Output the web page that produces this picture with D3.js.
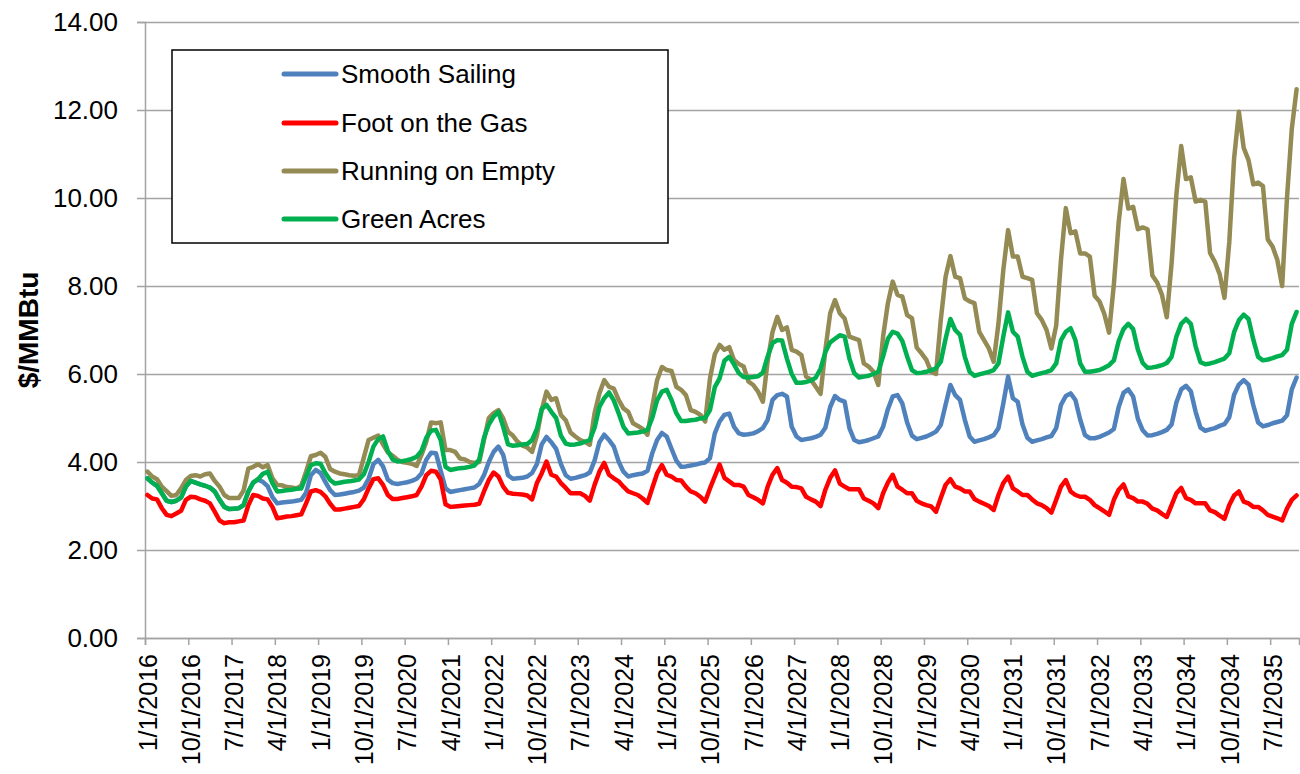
<!DOCTYPE html>
<html><head><meta charset="utf-8">
<script src="https://cdn.jsdelivr.net/npm/d3@7"></script>
<style>
body{margin:0;background:#fff;}
svg{display:block;}
text{font-family:"Liberation Sans",Arial,sans-serif;fill:#000;}
</style>
</head><body>
<svg id="chart" width="1300" height="774"></svg>
<script>
// ---------- DATA ----------
const startYear = 2016;
const monthCount = 240;
const categories = d3.range(monthCount).map(i => `${i % 12 + 1}/1/${startYear + Math.floor(i / 12)}`);
const tickLabels = ["1/1/2016","10/1/2016","7/1/2017","4/1/2018","1/1/2019","10/1/2019","7/1/2020","4/1/2021","1/1/2022","10/1/2022","7/1/2023","4/1/2024","1/1/2025","10/1/2025","7/1/2026","4/1/2027","1/1/2028","10/1/2028","7/1/2029","4/1/2030","1/1/2031","10/1/2031","7/1/2032","4/1/2033","1/1/2034","10/1/2034","7/1/2035"];
const yTickValues = [0, 2, 4, 6, 8, 10, 12, 14];
const seriesNames = ["Smooth Sailing", "Foot on the Gas", "Running on Empty", "Green Acres"];

const smoothSailing = [
3.63,3.53,3.46,3.29,3.12,3.09,3.12,3.19,3.44,3.57,3.53,3.49,
3.46,3.42,3.33,3.14,2.98,2.93,2.94,2.95,3.02,3.33,3.53,3.60,
3.55,3.45,3.20,3.06,3.08,3.09,3.10,3.12,3.14,3.30,3.70,3.82,
3.75,3.55,3.36,3.25,3.26,3.28,3.30,3.32,3.35,3.42,3.62,3.95,
4.05,3.90,3.60,3.52,3.50,3.52,3.54,3.57,3.62,3.74,4.05,4.21,
4.20,3.80,3.40,3.32,3.34,3.36,3.38,3.40,3.42,3.50,3.70,4.00,
4.23,4.35,4.16,3.70,3.62,3.63,3.64,3.67,3.75,3.95,4.40,4.57,
4.45,4.30,3.95,3.70,3.62,3.64,3.67,3.70,3.76,4.03,4.45,4.62,
4.50,4.35,4.01,3.78,3.67,3.70,3.72,3.74,3.80,4.20,4.50,4.66,
4.58,4.30,4.03,3.89,3.90,3.92,3.94,3.97,3.99,4.09,4.65,4.92,
5.07,5.10,4.80,4.65,4.62,4.63,4.65,4.70,4.77,4.96,5.41,5.52,
5.55,5.49,4.80,4.58,4.50,4.52,4.54,4.57,4.62,4.78,5.25,5.50,
5.41,5.37,4.77,4.50,4.45,4.47,4.50,4.54,4.58,4.80,5.20,5.49,
5.52,5.33,4.90,4.60,4.52,4.55,4.58,4.63,4.69,4.84,5.30,5.75,
5.52,5.41,4.96,4.58,4.46,4.49,4.52,4.56,4.61,4.77,5.33,5.94,
5.45,5.37,4.85,4.55,4.46,4.49,4.52,4.56,4.59,4.77,5.30,5.50,
5.56,5.41,4.96,4.61,4.54,4.54,4.57,4.62,4.67,4.75,5.25,5.57,
5.65,5.49,4.98,4.72,4.60,4.61,4.64,4.68,4.73,4.85,5.35,5.65,
5.73,5.61,5.14,4.78,4.71,4.74,4.77,4.82,4.86,5.02,5.53,5.76,
5.86,5.76,5.29,4.90,4.81,4.84,4.88,4.91,4.94,5.06,5.65,5.92];

const footOnTheGas = [
3.25,3.17,3.15,2.95,2.80,2.77,2.83,2.89,3.14,3.21,3.20,3.15,
3.12,3.06,2.87,2.67,2.61,2.63,2.63,2.65,2.67,3.02,3.25,3.23,
3.17,3.15,2.98,2.72,2.74,2.76,2.77,2.79,2.81,3.06,3.33,3.36,
3.32,3.22,3.05,2.92,2.92,2.94,2.96,2.98,3.00,3.15,3.40,3.61,
3.63,3.48,3.25,3.16,3.16,3.18,3.20,3.22,3.25,3.44,3.70,3.80,
3.78,3.60,3.04,2.98,2.99,3.00,3.01,3.02,3.03,3.05,3.33,3.59,
3.76,3.67,3.44,3.30,3.28,3.27,3.26,3.24,3.15,3.52,3.74,4.01,
3.71,3.67,3.52,3.41,3.29,3.29,3.29,3.23,3.12,3.48,3.78,3.98,
3.71,3.63,3.56,3.44,3.33,3.29,3.25,3.17,3.07,3.41,3.74,3.93,
3.71,3.67,3.59,3.58,3.44,3.33,3.29,3.21,3.10,3.40,3.67,3.94,
3.64,3.56,3.48,3.48,3.44,3.25,3.20,3.14,3.06,3.44,3.71,3.86,
3.59,3.53,3.44,3.43,3.40,3.21,3.15,3.10,3.00,3.37,3.64,3.81,
3.51,3.44,3.38,3.38,3.38,3.17,3.12,3.06,2.95,3.29,3.53,3.71,
3.44,3.37,3.29,3.29,3.12,3.06,3.02,2.99,2.87,3.18,3.48,3.61,
3.44,3.40,3.33,3.33,3.16,3.10,3.05,3.00,2.91,3.25,3.52,3.67,
3.40,3.33,3.25,3.25,3.15,3.06,3.02,2.95,2.85,3.14,3.44,3.59,
3.33,3.25,3.21,3.21,3.14,3.02,2.95,2.88,2.80,3.14,3.37,3.49,
3.22,3.18,3.10,3.10,3.05,2.94,2.90,2.82,2.75,3.02,3.29,3.41,
3.18,3.14,3.06,3.06,3.06,2.90,2.86,2.78,2.71,3.02,3.24,3.33,
3.10,3.06,2.98,2.98,2.90,2.80,2.76,2.72,2.67,2.94,3.14,3.24];

const runningOnEmpty = [
3.78,3.67,3.61,3.44,3.34,3.23,3.25,3.40,3.59,3.68,3.70,3.67,
3.72,3.74,3.57,3.44,3.25,3.18,3.18,3.18,3.35,3.85,3.89,3.95,
3.88,3.93,3.63,3.48,3.47,3.43,3.42,3.40,3.46,3.78,4.13,4.16,
4.21,4.12,3.84,3.78,3.74,3.72,3.70,3.69,3.70,4.10,4.50,4.55,
4.60,4.40,4.22,4.14,4.05,4.00,3.98,3.96,3.91,4.16,4.46,4.90,
4.88,4.90,4.27,4.27,4.23,4.08,4.06,4.00,3.98,4.00,4.50,5.00,
5.11,5.18,4.99,4.69,4.60,4.46,4.37,4.33,4.23,4.60,5.18,5.60,
5.41,5.45,5.07,4.95,4.67,4.58,4.50,4.46,4.39,5.11,5.56,5.86,
5.71,5.67,5.41,5.22,5.14,4.88,4.82,4.75,4.62,5.26,5.86,6.16,
6.09,6.07,5.71,5.64,5.52,5.18,5.14,5.07,4.92,5.90,6.45,6.66,
6.55,6.61,6.32,6.23,6.17,5.83,5.75,5.60,5.37,6.30,6.95,7.30,
7.00,7.06,6.55,6.51,6.43,5.94,5.87,5.71,5.55,6.55,7.38,7.68,
7.38,7.26,6.85,6.81,6.77,6.24,6.17,6.05,5.75,6.85,7.61,8.10,
7.80,7.76,7.34,7.27,6.60,6.47,6.32,6.05,6.00,7.23,8.21,8.68,
8.21,8.18,7.72,7.65,7.61,6.96,6.77,6.58,6.28,7.15,8.36,9.27,
8.67,8.67,8.21,8.18,8.14,7.38,7.23,7.00,6.58,7.10,8.60,9.77,
9.20,9.24,8.74,8.74,8.67,7.78,7.65,7.37,6.94,8.04,9.45,10.43,
9.76,9.80,9.29,9.33,9.29,8.24,8.08,7.80,7.29,8.51,10.08,11.18,
10.43,10.47,9.92,9.96,9.92,8.75,8.55,8.27,7.73,9.00,10.90,11.96,
11.14,10.86,10.31,10.35,10.27,9.06,8.90,8.59,8.00,10.00,11.57,12.47];

const greenAcres = [
3.63,3.53,3.46,3.29,3.12,3.09,3.12,3.19,3.44,3.57,3.53,3.49,
3.46,3.42,3.33,3.14,2.98,2.93,2.94,2.95,3.02,3.33,3.53,3.61,
3.73,3.78,3.52,3.33,3.34,3.36,3.37,3.39,3.40,3.67,3.93,3.97,
3.96,3.75,3.59,3.51,3.53,3.55,3.56,3.58,3.60,3.72,4.00,4.35,
4.52,4.58,4.25,4.06,4.01,4.02,4.04,4.07,4.12,4.25,4.55,4.71,
4.73,4.50,3.89,3.82,3.84,3.86,3.87,3.89,3.92,4.05,4.55,4.85,
5.03,5.14,4.80,4.40,4.37,4.38,4.40,4.41,4.50,4.75,5.20,5.30,
5.14,5.00,4.60,4.42,4.39,4.40,4.42,4.46,4.50,4.78,5.25,5.45,
5.58,5.40,5.11,4.80,4.65,4.66,4.67,4.69,4.73,5.00,5.40,5.60,
5.64,5.41,5.11,4.93,4.93,4.95,4.96,4.99,5.00,5.18,5.70,5.90,
6.30,6.39,6.22,6.02,5.93,5.92,5.93,5.95,6.03,6.40,6.70,6.77,
6.76,6.35,6.00,5.80,5.80,5.82,5.85,5.92,6.12,6.50,6.72,6.80,
6.88,6.85,6.35,6.02,5.92,5.94,5.96,6.00,6.05,6.40,6.80,6.96,
6.92,6.75,6.40,6.09,6.02,6.03,6.05,6.09,6.13,6.28,6.80,7.25,
7.00,6.89,6.39,6.05,5.96,5.99,6.02,6.05,6.09,6.24,6.85,7.40,
6.96,6.85,6.39,6.05,5.96,5.99,6.02,6.05,6.09,6.24,6.77,6.96,
7.04,6.77,6.24,6.05,6.05,6.07,6.09,6.14,6.20,6.31,6.75,7.02,
7.14,7.02,6.55,6.25,6.14,6.15,6.17,6.20,6.25,6.39,6.85,7.14,
7.25,7.14,6.63,6.27,6.22,6.24,6.27,6.31,6.35,6.47,6.95,7.22,
7.35,7.25,6.78,6.39,6.31,6.33,6.36,6.40,6.43,6.55,7.14,7.41];

// ---------- LAYOUT / STYLE ----------
const colors = ["#4F81BD", "#FF0000", "#948A54", "#00B050"];
const allSeries = [smoothSailing, footOnTheGas, runningOnEmpty, greenAcres];
const plotL = 145, plotR = 1299, plotT = 22, plotB = 638;
const gridColor = "#A3A3A3";
const fontFam = '"Liberation Sans",Arial,sans-serif';

const svg = d3.select("#chart");

const x = d3.scaleBand().domain(categories).range([plotL, plotR]).padding(0);
const bw = x.bandwidth();
const xLin = d3.scaleLinear().domain([0, monthCount]).range([plotL, plotR]);
const y = d3.scaleLinear().domain([0, 14]).range([plotB, plotT]);

// gridlines
svg.append("g")
  .attr("transform", `translate(${plotL},0)`)
  .call(d3.axisLeft(y).tickValues(yTickValues).tickSize(-(plotR - plotL)).tickFormat(""))
  .call(g => g.select(".domain").remove())
  .call(g => g.selectAll("line").attr("stroke", gridColor).attr("stroke-width", 1.5));

// y axis
svg.append("g")
  .attr("transform", `translate(${plotL},0)`)
  .call(d3.axisLeft(y).tickValues(yTickValues).tickSize(8).tickPadding(19).tickFormat(d3.format(".2f")))
  .call(g => g.select(".domain").attr("stroke", gridColor).attr("stroke-width", 1.5))
  .call(g => g.selectAll("line").attr("stroke", gridColor).attr("stroke-width", 1.5))
  .call(g => g.selectAll("text").attr("font-size", 26).attr("fill", "#000").style("font-family", fontFam));

// x axis (ticks at category boundaries every 9 months, labels centered on category)
const tickIdx = tickLabels.map(l => categories.indexOf(l));
svg.append("g")
  .attr("transform", `translate(0,${plotB})`)
  .call(d3.axisBottom(xLin).tickValues(tickIdx).tickSize(7).tickFormat((d, i) => tickLabels[i]))
  .call(g => g.select(".domain").attr("stroke", gridColor).attr("stroke-width", 1.5))
  .call(g => g.selectAll("line").attr("stroke", gridColor).attr("stroke-width", 1.5))
  .call(g => g.selectAll("text")
      .attr("font-size", 25).attr("fill", "#000")
      .style("font-family", fontFam)
      .attr("text-anchor", "end")
      .attr("transform", `translate(${bw / 2},0) rotate(-90)`)
      .attr("x", -16).attr("y", 0).attr("dy", "0.35em"));

// y-axis title
svg.append("text")
  .attr("transform", `translate(38,330) rotate(-90)`)
  .attr("text-anchor", "middle")
  .attr("font-size", 28).attr("font-weight", "bold")
  .text("$/MMBtu");

// lines
const line = d3.line()
  .x((d, i) => x(categories[i]) + bw / 2)
  .y(d => y(d));

allSeries.forEach((s, k) => {
  svg.append("path")
    .datum(s)
    .attr("fill", "none")
    .attr("stroke", colors[k])
    .attr("stroke-width", 4.5)
    .attr("stroke-linejoin", "round")
    .attr("stroke-linecap", "round")
    .attr("d", line);
});

// legend
const lg = svg.append("g");
lg.append("rect").attr("x", 172).attr("y", 50).attr("width", 496).attr("height", 193)
  .attr("fill", "#fff").attr("stroke", "#000").attr("stroke-width", 1.5);
const rowY = [74, 123, 171, 219];
seriesNames.forEach((n, k) => {
  lg.append("line").attr("x1", 284).attr("x2", 336).attr("y1", rowY[k]).attr("y2", rowY[k])
    .attr("stroke", colors[k]).attr("stroke-width", 5).attr("stroke-linecap", "round");
  lg.append("text").attr("x", 341).attr("y", rowY[k]).attr("dy", "0.36em")
    .attr("font-size", 26).text(n);
});
</script>
</body></html>
